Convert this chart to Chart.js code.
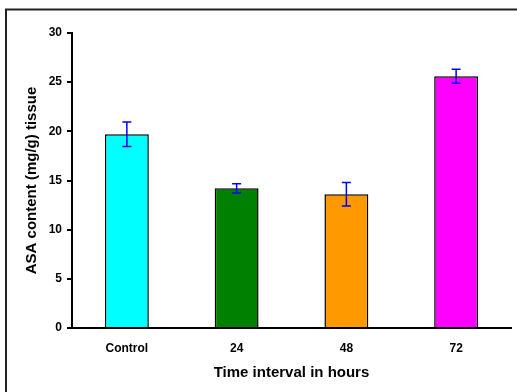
<!DOCTYPE html>
<html lang="en">
<head>
    <meta charset="UTF-8">
    <title>ASA content</title>
    <style>
        body {
            margin: 0;
            background: #ffffff;
        }
        .wrap {
            width: 517px;
            height: 392px;
        }
    </style>
</head>
<body>
    <div class="wrap">
        <canvas id="asaChart" width="517" height="392"></canvas>
    </div>
    <script src="https://cdn.jsdelivr.net/npm/chart.js"></script>
    <script>
        const categories = ['Control', '24', '48', '72'];
        const asaValues = [19.7, 14.2, 13.6, 25.6];
        const asaErrors = [1.25, 0.47, 1.2, 0.72];
        const barColors = ['#00ffff', '#008000', '#ff9900', '#ff00ff'];
        const yTicks = [0, 5, 10, 15, 20, 25, 30];

        const fontFamily = "'Liberation Sans', Arial, sans-serif";

        // error bars, drawn over the bars from the y scale
        const errorBars = {
            id: 'errorBars',
            afterDatasetsDraw(chart) {
                const ctx = chart.ctx;
                const yScale = chart.scales.y;
                const meta = chart.getDatasetMeta(0);
                ctx.save();
                ctx.strokeStyle = '#0000ff';
                ctx.lineWidth = 1.5;
                meta.data.forEach((bar, i) => {
                    const top = yScale.getPixelForValue(asaValues[i] + asaErrors[i]);
                    const bottom = yScale.getPixelForValue(asaValues[i] - asaErrors[i]);
                    const x = bar.x;
                    ctx.beginPath();
                    ctx.moveTo(x, top);
                    ctx.lineTo(x, bottom);
                    ctx.moveTo(x - 4.5, top);
                    ctx.lineTo(x + 4.5, top);
                    ctx.moveTo(x - 4.5, bottom);
                    ctx.lineTo(x + 4.5, bottom);
                    ctx.stroke();
                });
                ctx.restore();
            }
        };

        // the frame round the picture (only left and top edges show)
        const frame = {
            id: 'frame',
            afterDraw(chart) {
                const ctx = chart.ctx;
                ctx.save();
                ctx.strokeStyle = '#222222';
                ctx.lineWidth = 2;
                ctx.beginPath();
                ctx.moveTo(6, chart.height);
                ctx.lineTo(6, 9.5);
                ctx.lineTo(chart.width, 9.5);
                ctx.stroke();
                ctx.restore();
            }
        };

        new Chart(document.getElementById('asaChart'), {
            type: 'bar',
            data: {
                labels: categories,
                datasets: [{
                    data: asaValues,
                    backgroundColor: barColors,
                    borderColor: '#000000',
                    borderWidth: 1.5,
                    barPercentage: 0.4,
                    categoryPercentage: 1.0
                }]
            },
            options: {
                responsive: false,
                animation: false,
                devicePixelRatio: 1,
                layout: {
                    padding: { left: 0, right: 6, top: 33, bottom: 0 }
                },
                plugins: {
                    legend: { display: false },
                    tooltip: { enabled: false }
                },
                scales: {
                    x: {
                        afterFit(scale) { scale.height = 64; },
                        grid: { display: false, drawTicks: false },
                        border: { display: true, color: '#000000', width: 2 },
                        ticks: {
                            color: '#000000',
                            padding: 13,
                            font: { family: fontFamily, size: 12, weight: 'bold' }
                        },
                        title: {
                            display: true,
                            text: 'Time interval in hours',
                            color: '#000000',
                            padding: { top: 0, bottom: 10 },
                            font: { family: fontFamily, size: 15, weight: 'bold' }
                        }
                    },
                    y: {
                        min: 0,
                        max: 30,
                        afterFit(scale) { scale.width = 72; },
                        afterBuildTicks(scale) {
                            scale.ticks = yTicks.map(v => ({ value: v }));
                        },
                        grid: {
                            drawOnChartArea: false,
                            drawTicks: true,
                            tickLength: 5,
                            color: '#000000',
                            lineWidth: 2
                        },
                        border: { display: true, color: '#000000', width: 2 },
                        ticks: {
                            color: '#000000',
                            padding: 5,
                            font: { family: fontFamily, size: 12, weight: 'bold' }
                        },
                        title: {
                            display: true,
                            text: 'ASA content (mg/g) tissue',
                            color: '#000000',
                            padding: { top: 23, bottom: 0 },
                            font: { family: fontFamily, size: 15, weight: 'bold' }
                        }
                    }
                }
            },
            plugins: [errorBars, frame]
        });
    </script>
</body>
</html>
